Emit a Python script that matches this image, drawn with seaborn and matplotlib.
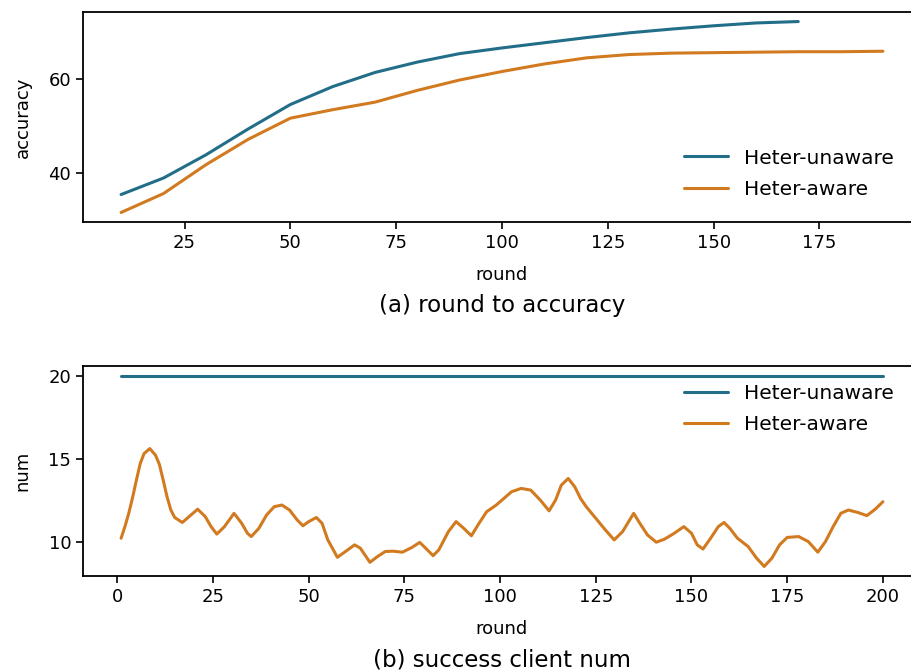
import numpy as np
import pandas as pd
import matplotlib
matplotlib.use("Agg")
import matplotlib.pyplot as plt
import seaborn as sns

# ---- data: (a) round to accuracy ----
acc_rounds_unaware = [10, 20, 30, 40, 50, 60, 70, 80, 90, 100, 110, 120, 130, 140, 150, 160, 170]
acc_unaware = [35.4, 38.9, 43.8, 49.3, 54.5, 58.3, 61.3, 63.5, 65.3, 66.5, 67.6, 68.7, 69.7, 70.5, 71.2, 71.8, 72.1]
acc_rounds_aware = [10, 20, 30, 40, 50, 60, 70, 80, 90, 100, 110, 120, 130, 140, 150, 160, 170, 180, 190]
acc_aware = [31.6, 35.6, 41.7, 47.1, 51.6, 53.4, 55.0, 57.5, 59.7, 61.5, 63.1, 64.4, 65.1, 65.4, 65.5, 65.6, 65.7, 65.7, 65.8]

# ---- data: (b) success client num ----
num_rounds_unaware = [1, 200]
num_unaware = [20, 20]
num_rounds_aware = [1, 2, 3, 4, 5, 6, 7, 8.5, 10, 11, 12, 13, 14, 15, 17, 19, 21, 23, 24.5, 26,
                    28, 30.5, 32.5, 34, 35, 37, 39, 41, 43, 45, 47, 48.5, 50, 52, 53.5, 55, 57.5, 59, 62, 63.5,
                    66, 68, 70, 72, 74.5, 77, 79, 81, 82.5, 84, 86.5, 88.5, 90.5, 92.5, 94.5, 96.5, 99, 101, 103, 105.5,
                    108, 110.5, 112.8, 114.5, 116, 117.8, 119.5, 121, 122.5, 125, 127.5, 129.8, 132, 134.9, 136.5, 138.5,
                    140.8, 143, 145.5, 148, 150, 151.5, 153, 155, 157, 158.5, 160, 162, 164.8, 167, 169, 171, 173, 175,
                    178, 180.5, 183, 185, 187, 189, 191, 193.5, 195.8, 198, 200]
num_aware = [10.2, 10.9, 11.7, 12.65, 13.7, 14.7, 15.3, 15.6, 15.2, 14.65, 13.7, 12.7, 11.9, 11.45, 11.15, 11.55, 11.95, 11.5, 10.9, 10.45,
             10.9, 11.7, 11.1, 10.5, 10.3, 10.8, 11.6, 12.1, 12.2, 11.9, 11.3, 10.95, 11.2, 11.45, 11.1, 10.1, 9.05, 9.3, 9.8, 9.6,
             8.75, 9.1, 9.4, 9.42, 9.36, 9.65, 9.95, 9.5, 9.15, 9.5, 10.6, 11.2, 10.8, 10.35, 11.1, 11.8, 12.2, 12.6, 13.0, 13.2,
             13.1, 12.5, 11.85, 12.5, 13.4, 13.8, 13.3, 12.6, 12.1, 11.4, 10.7, 10.1, 10.6, 11.7, 11.1, 10.4,
             9.96, 10.15, 10.5, 10.9, 10.5, 9.8, 9.55, 10.2, 10.9, 11.15, 10.8, 10.2, 9.7, 9.0, 8.5, 9.0, 9.8, 10.25,
             10.3, 10.0, 9.36, 10.0, 10.9, 11.7, 11.9, 11.75, 11.56, 11.95, 12.4]

series_names = ["Heter-unaware", "Heter-aware"]
colors = ["#226e88", "#d27a1f"]

sns.set_style("ticks")
plt.rcParams["font.family"] = ["DejaVu Sans"]
plt.rcParams["text.color"] = "black"
plt.rcParams["axes.labelcolor"] = "black"
plt.rcParams["xtick.color"] = "black"
plt.rcParams["ytick.color"] = "black"

df_a = pd.concat([
    pd.DataFrame({"round": acc_rounds_unaware, "accuracy": acc_unaware, "method": series_names[0]}),
    pd.DataFrame({"round": acc_rounds_aware, "accuracy": acc_aware, "method": series_names[1]}),
])
df_b = pd.concat([
    pd.DataFrame({"round": num_rounds_unaware, "num": num_unaware, "method": series_names[0]}),
    pd.DataFrame({"round": num_rounds_aware, "num": num_aware, "method": series_names[1]}),
])

W, H = 911, 672
fig = plt.figure(figsize=(W / 100, H / 100), dpi=100)
L = 83 / W
AW = (921 - 83) / W
ax1 = fig.add_axes([L, 1 - 222 / H, AW, 210 / H])
ax2 = fig.add_axes([L, 1 - 576 / H, AW, 210 / H])

palette = dict(zip(series_names, colors))
sns.lineplot(data=df_a, x="round", y="accuracy", hue="method", palette=palette,
             linewidth=2.2, ax=ax1, sort=True)
sns.lineplot(data=df_b, x="round", y="num", hue="method", palette=palette,
             linewidth=2.2, ax=ax2, sort=True)

tick_fs = 13
label_fs = 13
for ax in (ax1, ax2):
    for s in ax.spines.values():
        s.set_linewidth(1.3)
        s.set_color("black")
    ax.tick_params(labelsize=tick_fs, length=5, width=1.2, color="black", labelcolor="black")
    ax.set_xlabel("round", fontsize=label_fs, labelpad=10, color="black")

ax1.set_ylabel("accuracy", fontsize=label_fs, labelpad=12, color="black")
ax2.set_ylabel("num", fontsize=label_fs, labelpad=12, color="black")
ax1.set_xticks([25, 50, 75, 100, 125, 150, 175])
ax1.set_yticks([40, 60])
ax2.set_xticks([0, 25, 50, 75, 100, 125, 150, 175, 200])
ax2.set_yticks([10, 15, 20])
dx = 9 / 838
ax1.legend(frameon=False, fontsize=14.5, handlelength=2.2, labelspacing=0.6,
           loc="lower right", bbox_to_anchor=(1 - dx, 0.025))
ax2.legend(frameon=False, fontsize=14.5, handlelength=2.2, labelspacing=0.6,
           loc="upper right", bbox_to_anchor=(1 - dx, 1.0))

cx = (83 + 921) / 2 / W
fig.text(cx, 1 - 305 / H, "(a) round to accuracy", ha="center", va="center", fontsize=16.5, color="black")
fig.text(cx, 1 - 660 / H, "(b) success client num", ha="center", va="center", fontsize=16.5, color="black")

fig.savefig("out.png", dpi=100)
